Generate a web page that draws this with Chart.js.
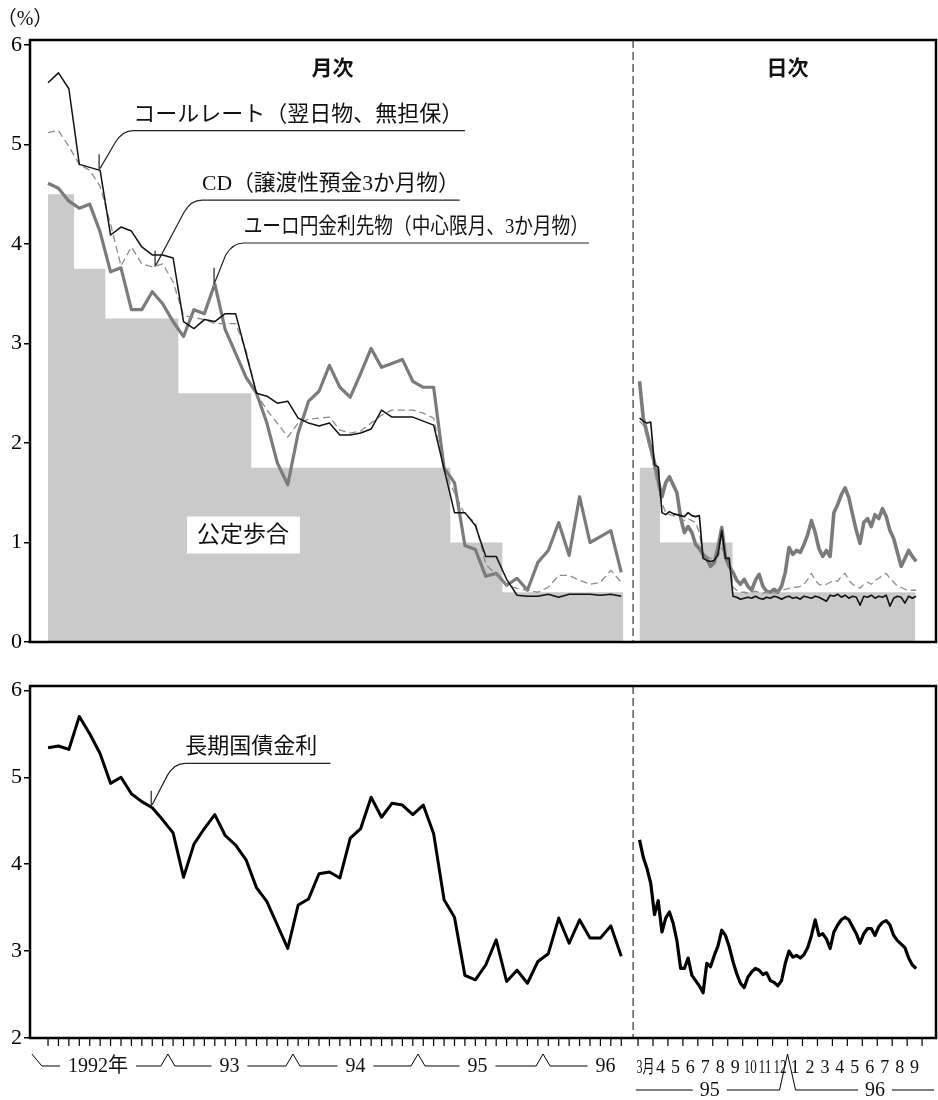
<!DOCTYPE html>
<html>
<head>
<meta charset="utf-8">
<script src="https://cdn.jsdelivr.net/npm/chart.js@4.4.0/dist/chart.umd.min.js"></script>
<style>
  html, body { margin: 0; padding: 0; background: #fff; }
  #wrap { position: relative; width: 938px; height: 1100px; }
  canvas { position: absolute; left: 0; }
  #top { top: 0; }
  #bottom { top: 650px; }
</style>
</head>
<body>
<div id="wrap">
  <canvas id="top" width="938" height="670"></canvas>
  <canvas id="bottom" width="938" height="450"></canvas>
</div>
<script>
// ---- monthly data, Jan 1992 .. Aug 1996 (index 0 = Jan 92) ----
const callMonthly = [5.62, 5.72, 5.56, 4.80, 4.77, 4.74, 4.09, 4.17, 4.13, 3.97,
  3.89, 3.89, 3.86, 3.22, 3.15, 3.24, 3.22, 3.30, 3.30, 2.90,
  2.50, 2.47, 2.40, 2.42, 2.25, 2.20, 2.17, 2.20, 2.08, 2.08,
  2.10, 2.14, 2.33, 2.26, 2.26, 2.26, 2.22, 2.18, 1.74, 1.30,
  1.30, 1.17, 0.86, 0.86, 0.63, 0.47, 0.46, 0.46, 0.48, 0.45,
  0.48, 0.48, 0.48, 0.47, 0.48, 0.46];
const cdMonthly = [5.12, 5.14, 4.98, 4.80, 4.74, 4.58, 4.20, 3.78, 3.97, 3.80,
  3.77, 3.80, 3.62, 3.28, 3.26, 3.24, 3.20, 3.20, 3.20, 2.93,
  2.50, 2.33, 2.20, 2.06, 2.20, 2.24, 2.25, 2.26, 2.13, 2.10,
  2.12, 2.20, 2.28, 2.33, 2.33, 2.33, 2.30, 2.25, 1.72, 1.50,
  1.28, 1.20, 0.78, 0.68, 0.57, 0.54, 0.52, 0.50, 0.55, 0.67,
  0.67, 0.62, 0.58, 0.60, 0.72, 0.60];
const euroyenMonthly = [4.61, 4.56, 4.43, 4.36, 4.40, 4.12, 3.72, 3.76, 3.34, 3.34,
  3.52, 3.40, 3.22, 3.07, 3.34, 3.30, 3.60, 3.14, 2.90, 2.66,
  2.50, 2.20, 1.80, 1.58, 2.10, 2.42, 2.52, 2.78, 2.56, 2.46,
  2.70, 2.95, 2.76, 2.80, 2.84, 2.62, 2.56, 2.56, 1.75, 1.60,
  0.97, 0.93, 0.66, 0.69, 0.57, 0.64, 0.52, 0.80, 0.92, 1.20,
  0.87, 1.46, 1.00, 1.06, 1.12, 0.70];
const jgbMonthly = [5.34, 5.36, 5.32, 5.70, 5.50, 5.27, 4.93, 5.00, 4.81, 4.72,
  4.65, 4.51, 4.36, 3.85, 4.23, 4.41, 4.57, 4.33, 4.22, 4.05,
  3.73, 3.57, 3.30, 3.03, 3.53, 3.60, 3.89, 3.91, 3.84, 4.30,
  4.41, 4.77, 4.54, 4.70, 4.68, 4.57, 4.68, 4.35, 3.59, 3.39,
  2.72, 2.67, 2.84, 3.13, 2.65, 2.78, 2.63, 2.88, 2.97, 3.38,
  3.09, 3.36, 3.15, 3.15, 3.29, 2.94];

// official discount rate: start of each level (month index) and level
const discountMonthX = [0, 2.5, 5.5, 12.5, 19.5, 38.6, 43.6, 55.2];
const discountMonthRate = [4.5, 3.75, 3.25, 2.5, 1.75, 1.0, 0.5, 0.5];

// ---- daily section, Mar 1995 .. Sep 1996, sampled weekly (months since 1 Mar 95) ----
const dailyStart = 0.1, dailyStep = 0.25;
const callDaily = [2.25, 2.22, 2.20, 2.21, 1.78, 1.76, 1.30, 1.28, 1.31, 1.29,
  1.28, 1.27, 1.26, 1.30, 1.27, 1.26, 1.27, 0.84, 0.82, 0.81,
  0.82, 0.88, 1.12, 0.84, 0.84, 0.46, 0.45, 0.43, 0.44, 0.45,
  0.44, 0.46, 0.44, 0.43, 0.45, 0.44, 0.46, 0.45, 0.43, 0.45,
  0.46, 0.44, 0.45, 0.43, 0.46, 0.45, 0.44, 0.46, 0.45, 0.43,
  0.41, 0.47, 0.46, 0.48, 0.45, 0.47, 0.44, 0.46, 0.45, 0.37,
  0.46, 0.45, 0.47, 0.44, 0.46, 0.45, 0.47, 0.36, 0.44, 0.46,
  0.45, 0.39, 0.46, 0.44, 0.46];
const cdDaily = [2.22, 2.18, 2.05, 1.90, 1.72, 1.55, 1.40, 1.30, 1.28, 1.27,
  1.26, 1.24, 1.22, 1.24, 1.22, 1.20, 1.10, 0.88, 0.86, 0.84,
  0.83, 0.86, 0.95, 0.86, 0.85, 0.55, 0.52, 0.50, 0.50, 0.49,
  0.50, 0.51, 0.50, 0.49, 0.50, 0.50, 0.49, 0.50, 0.52, 0.53,
  0.54, 0.55, 0.55, 0.56, 0.58, 0.63, 0.69, 0.62, 0.58, 0.57,
  0.58, 0.60, 0.62, 0.61, 0.66, 0.69, 0.62, 0.58, 0.56, 0.54,
  0.58, 0.60, 0.58, 0.62, 0.64, 0.67, 0.69, 0.64, 0.60, 0.56,
  0.55, 0.53, 0.52, 0.52, 0.52];
const euroyenDaily = [2.62, 2.25, 2.10, 1.95, 1.80, 1.62, 1.46, 1.60, 1.66, 1.58,
  1.50, 1.25, 1.10, 1.16, 1.10, 0.98, 0.94, 0.88, 0.84, 0.76,
  0.80, 0.95, 1.15, 0.85, 0.76, 0.70, 0.62, 0.58, 0.63, 0.56,
  0.52, 0.62, 0.68, 0.56, 0.51, 0.50, 0.53, 0.50, 0.56, 0.70,
  0.95, 0.88, 0.92, 0.90, 0.98, 1.08, 1.22, 1.10, 0.94, 0.86,
  0.92, 0.86, 1.30, 1.38, 1.48, 1.55, 1.45, 1.28, 1.12, 0.99,
  1.20, 1.24, 1.16, 1.28, 1.24, 1.34, 1.26, 1.12, 1.04, 0.90,
  0.76, 0.84, 0.92, 0.86, 0.81];
const jgbDaily = [4.28, 4.08, 3.95, 3.78, 3.42, 3.58, 3.22, 3.38, 3.45, 3.32,
  3.12, 2.80, 2.80, 2.92, 2.72, 2.66, 2.60, 2.52, 2.86, 2.82,
  2.95, 3.06, 3.24, 3.18, 3.05, 2.88, 2.74, 2.63, 2.58, 2.70,
  2.76, 2.80, 2.78, 2.73, 2.75, 2.66, 2.64, 2.60, 2.66, 2.86,
  3.00, 2.93, 2.95, 2.92, 2.96, 3.04, 3.18, 3.36, 3.18, 3.20,
  3.14, 3.03, 3.22, 3.30, 3.36, 3.39, 3.36, 3.28, 3.20, 3.09,
  3.20, 3.26, 3.26, 3.18, 3.28, 3.33, 3.35, 3.30, 3.18, 3.12,
  3.08, 3.04, 2.92, 2.84, 2.80];
const discountDayX = [0.1, 1.47, 6.32, 18.55];
const discountDayRate = [1.75, 1.0, 0.5, 0.5];

// ---- axis labels ----
const yTicksTop = [0, 1, 2, 3, 4, 5, 6];
const yTicksBottom = [2, 3, 4, 5, 6];
const yearLabels = ['1992年', '93', '94', '95', '96'];
const yearCenters = [4.8, 17.4, 29.5, 41.2, 53.5];
const yearBreaks = [11.5, 23.5, 35.5, 47.5];
const dailyMonthLabels = ['3月', '4', '5', '6', '7', '8', '9', '10', '11', '12',
  '1', '2', '3', '4', '5', '6', '7', '8', '9'];
const dailyYearLabels = ['95', '96'];
const dailyYearCenters = [4.8, 15.85];
const dailyYearBreak = 10;
const splitAt = -0.33; // boundary between monthly and daily sections (daily axis)

const SERIF = '"Liberation Serif", "Noto Sans CJK JP", serif';
const GOTHIC = '"Noto Sans CJK JP", sans-serif';

const monthly = arr => arr.map((v, i) => ({ x: i, y: v }));
const daily = arr => arr.map((v, i) => ({ x: dailyStart + i * dailyStep, y: v }));
const steps = (xs, ys) => xs.map((x, i) => ({ x: x, y: ys[i] }));
const px = (chart, axis, v) => chart.scales[axis].getPixelForValue(v);

function lineSet(label, data, axis, color, width, order, dash) {
  return {
    label: label, data: data, xAxisID: axis, borderColor: color, borderWidth: width,
    borderDash: dash || [], order: order, fill: false, pointRadius: 0
  };
}

function stepSet(label, data, axis) {
  return {
    label: label, data: data, xAxisID: axis, stepped: true, fill: 'origin',
    backgroundColor: '#cacaca', borderColor: 'rgba(0,0,0,0)', borderWidth: 0,
    pointRadius: 0, order: 10
  };
}

function yScale(min, max, ticks) {
  return {
    min: min, max: max,
    afterBuildTicks: s => { s.ticks = ticks.map(v => ({ value: v })); },
    afterFit: s => { s.width = 30; },
    grid: { drawOnChartArea: false, drawTicks: true, tickLength: 6, color: '#000', lineWidth: 1.5 },
    border: { display: false },
    ticks: { padding: 2, color: '#000', font: { family: SERIF, size: 22 } }
  };
}

const xScales = {
  xm: { type: 'linear', position: 'bottom', min: -1.73, max: 85.2, display: false },
  xd: { type: 'linear', position: 'bottom', min: -40.67, max: 19.93, display: false }
};

function drawSplitAndFrame(chart) {
  const ctx = chart.ctx, ca = chart.chartArea;
  const sx = px(chart, 'xd', splitAt);
  ctx.save();
  ctx.strokeStyle = '#333';
  ctx.lineWidth = 1.2;
  ctx.setLineDash([8, 4]);
  ctx.beginPath();
  ctx.moveTo(sx, ca.top);
  ctx.lineTo(sx, ca.bottom);
  ctx.stroke();
  ctx.setLineDash([]);
  ctx.strokeStyle = '#000';
  ctx.lineWidth = 2.5;
  ctx.strokeRect(ca.left, ca.top, ca.right - ca.left, ca.bottom - ca.top);
  ctx.restore();
}

// leader line with a tick on the series and an underlined label
function drawLeader(chart, a) {
  const ctx = chart.ctx;
  const x0 = px(chart, 'xm', a.px), y0 = px(chart, 'y', a.py);
  const u0 = px(chart, 'xm', a.ux0), u1 = px(chart, 'xm', a.ux1), uy = px(chart, 'y', a.uy);
  ctx.save();
  ctx.strokeStyle = '#222';
  ctx.lineWidth = 1.2;
  ctx.beginPath();
  ctx.moveTo(x0, y0 - 16);
  ctx.lineTo(x0, y0);
  ctx.moveTo(x0 + 1, y0 - 2);
  ctx.lineTo(u0 - 12, uy + 12);
  ctx.quadraticCurveTo(u0 - 5, uy, u0 + 6, uy);
  ctx.lineTo(u1, uy);
  ctx.stroke();
  ctx.fillStyle = '#111';
  ctx.font = '22px ' + SERIF;
  ctx.textAlign = 'left';
  ctx.textBaseline = 'alphabetic';
  const tx = u0 + 6;
  ctx.fillText(a.text, tx, uy - 10, u1 - tx);
  ctx.restore();
}

const topOverlay = {
  id: 'topOverlay',
  afterDatasetsDraw(chart) {
    const ctx = chart.ctx, ca = chart.chartArea;

    // 公定歩合 label box
    const bx = px(chart, 'xm', 18.7), by = px(chart, 'y', 1.08);
    ctx.save();
    ctx.fillStyle = '#fff';
    ctx.fillRect(bx - 56, by - 18, 113, 37);
    ctx.fillStyle = '#111';
    ctx.font = '23px ' + SERIF;
    ctx.textAlign = 'center';
    ctx.textBaseline = 'middle';
    ctx.fillText('公定歩合', bx, by + 1);

    ctx.font = 'bold 21px ' + GOTHIC;
    ctx.fillText('月次', px(chart, 'xm', 27.3), px(chart, 'y', 5.78));
    ctx.fillText('日次', px(chart, 'xd', 10.0), px(chart, 'y', 5.78));

    ctx.font = '20px ' + SERIF;
    ctx.fillText('（%）', ca.left - 5, ca.top - 20);
    ctx.restore();

    drawLeader(chart, { text: 'コールレート（翌日物、無担保）', px: 4.9, py: 4.74, ux0: 7.6, ux1: 40.0, uy: 5.14 });
    drawLeader(chart, { text: 'CD（譲渡性預金3か月物）', px: 10.27, py: 3.77, ux0: 14.2, ux1: 39.5, uy: 4.44 });
    drawLeader(chart, { text: 'ユーロ円金利先物（中心限月、3か月物）', px: 15.93, py: 3.6, ux0: 18.2, ux1: 51.9, uy: 4.01 });

    drawSplitAndFrame(chart);
  }
};

const bottomOverlay = {
  id: 'bottomOverlay',
  afterDatasetsDraw(chart) {
    const ctx = chart.ctx, ca = chart.chartArea, b = ca.bottom;
    drawLeader(chart, { text: '長期国債金利', px: 9.9, py: 4.66, ux0: 12.6, ux1: 27.1, uy: 5.16 });
    drawSplitAndFrame(chart);

    ctx.save();
    ctx.strokeStyle = '#000';
    ctx.lineWidth = 1.2;
    ctx.beginPath();
    for (let i = 0; i < jgbMonthly.length; i++) {
      const x = px(chart, 'xm', i);
      ctx.moveTo(x, b + 1); ctx.lineTo(x, b + 8);
    }
    for (let k = 0; k <= dailyMonthLabels.length; k++) {
      const x = px(chart, 'xd', k);
      ctx.moveTo(x, b + 1); ctx.lineTo(x, b + 8);
    }
    ctx.stroke();

    // year row under the monthly section
    const r1 = b + 28, peak = b + 16;
    ctx.fillStyle = '#111';
    ctx.font = '20px ' + SERIF;
    ctx.textAlign = 'center';
    ctx.textBaseline = 'middle';
    ctx.lineWidth = 1;
    ctx.beginPath();
    let cur = px(chart, 'xm', -1.55);
    ctx.moveTo(cur, peak);
    cur += 10;
    ctx.lineTo(cur, r1);
    yearLabels.forEach((lab, j) => {
      const cx = px(chart, 'xm', yearCenters[j]);
      const w = ctx.measureText(lab).width;
      ctx.moveTo(cur, r1);
      ctx.lineTo(cx - w / 2 - 8, r1);
      ctx.fillText(lab, cx, r1 + 1);
      cur = cx + w / 2 + 8;
      if (j < yearBreaks.length) {
        const brk = px(chart, 'xm', yearBreaks[j]);
        ctx.moveTo(cur, r1);
        ctx.lineTo(brk - 7, r1);
        ctx.lineTo(brk, peak);
        ctx.lineTo(brk + 7, r1);
        cur = brk + 7;
      }
    });
    ctx.stroke();

    // month labels under the daily section
    ctx.font = '18px ' + SERIF;
    dailyMonthLabels.forEach((lab, k) => {
      const cx = px(chart, 'xd', k + 0.5);
      const mw = lab.length > 1 ? (lab === '3月' ? 18 : 13) : undefined;
      if (mw) ctx.fillText(lab, cx, b + 30, mw);
      else ctx.fillText(lab, cx, b + 30);
    });

    const r2 = b + 52;
    ctx.font = '20px ' + SERIF;
    ctx.beginPath();
    cur = px(chart, 'xd', -0.15);
    dailyYearLabels.forEach((lab, j) => {
      const cx = px(chart, 'xd', dailyYearCenters[j]);
      const w = ctx.measureText(lab).width;
      ctx.moveTo(cur, r2);
      ctx.lineTo(cx - w / 2 - 7, r2);
      ctx.fillText(lab, cx, r2 + 1);
      cur = cx + w / 2 + 7;
      if (j === 0) {
        const brk = px(chart, 'xd', dailyYearBreak);
        ctx.moveTo(cur, r2);
        ctx.lineTo(brk - 8, r2);
        ctx.lineTo(brk, peak);
        ctx.lineTo(brk + 8, r2);
        cur = brk + 8;
      }
    });
    ctx.moveTo(cur, r2);
    ctx.lineTo(px(chart, 'xd', 19.8), r2);
    ctx.stroke();
    ctx.restore();
  }
};

const common = {
  responsive: false,
  animation: false,
  events: [],
  elements: { point: { radius: 0 }, line: { tension: 0, borderJoinStyle: 'round' } },
  plugins: { legend: { display: false }, tooltip: { enabled: false } }
};

new Chart(document.getElementById('top'), {
  type: 'line',
  data: {
    datasets: [
      lineSet('コールレート', monthly(callMonthly), 'xm', '#111', 1.5, 1),
      lineSet('CD', monthly(cdMonthly), 'xm', '#8c8c8c', 1.3, 2, [7, 4]),
      lineSet('ユーロ円金利先物', monthly(euroyenMonthly), 'xm', '#7b7b7b', 3.2, 3),
      lineSet('コールレート日次', daily(callDaily), 'xd', '#111', 1.6, 1),
      lineSet('CD日次', daily(cdDaily), 'xd', '#8c8c8c', 1.3, 2, [7, 4]),
      lineSet('ユーロ円日次', daily(euroyenDaily), 'xd', '#7b7b7b', 3.6, 3),
      stepSet('公定歩合', steps(discountMonthX, discountMonthRate), 'xm'),
      stepSet('公定歩合日次', steps(discountDayX, discountDayRate), 'xd')
    ]
  },
  options: Object.assign({}, common, {
    layout: { padding: { left: 0, right: 2, top: 40, bottom: 28 } },
    scales: Object.assign({}, xScales, { y: yScale(0, 6.05, yTicksTop) })
  }),
  plugins: [topOverlay]
});

new Chart(document.getElementById('bottom'), {
  type: 'line',
  data: {
    datasets: [
      lineSet('長期国債金利', monthly(jgbMonthly), 'xm', '#000', 3, 1),
      lineSet('長期国債金利日次', daily(jgbDaily), 'xd', '#000', 3.2, 1)
    ]
  },
  options: Object.assign({}, common, {
    layout: { padding: { left: 0, right: 2, top: 36, bottom: 62 } },
    scales: Object.assign({}, xScales, { y: yScale(2, 6.05, yTicksBottom) })
  }),
  plugins: [bottomOverlay]
});
</script>
</body>
</html>
